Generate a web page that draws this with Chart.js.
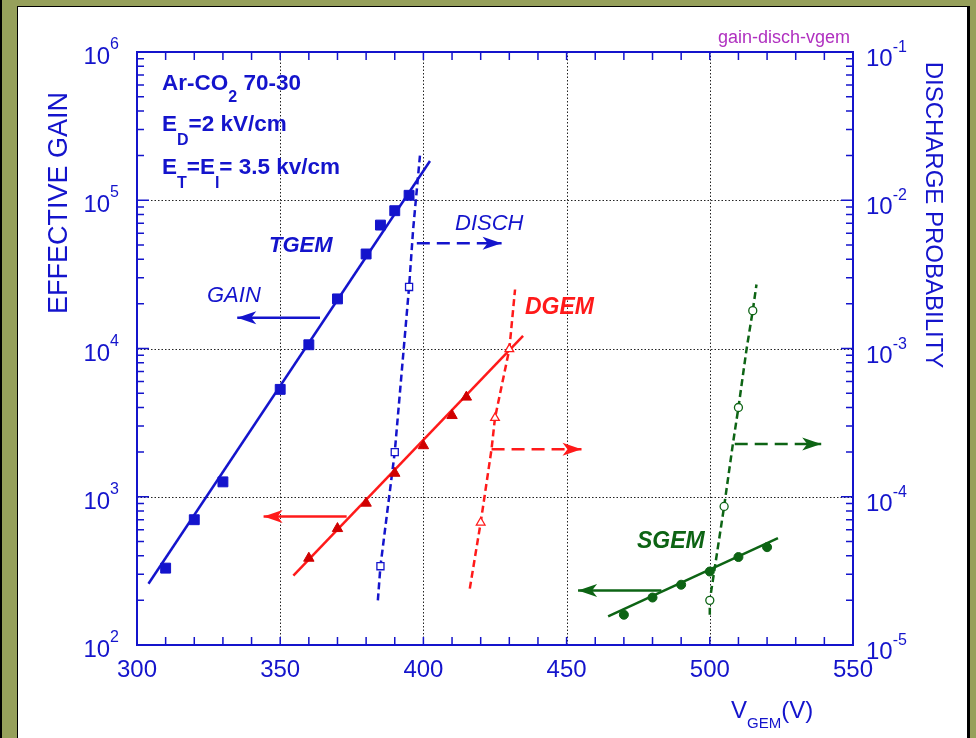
<!DOCTYPE html>
<html>
<head>
<meta charset="utf-8">
<script src="https://cdn.jsdelivr.net/npm/chart.js@4"></script>
<style>
  html, body { margin: 0; padding: 0; background: #96a05b; }
  canvas { display: block; }
</style>
</head>
<body>
<canvas id="gainChart" width="976" height="738"></canvas>
<script>
// values
const tgemVolts = [310, 320, 330, 350, 360, 370, 380, 385, 390, 395];
const tgemGain = [330, 700, 1260, 5300, 10600, 21600, 43400, 68000, 85000, 108000];
const tgemFitVolts = [304, 402.3];
const tgemFitGain = [259, 184000];
const tgemDischVolts = [385, 390, 395];
const tgemDisch = [3.4e-5, 2.0e-4, 2.6e-3];
const tgemDischFitVolts = [384.1, 385, 390, 395, 396.4, 398.8];
const tgemDischFit = [2.0e-5, 3.4e-5, 2.0e-4, 2.6e-3, 6.3e-3, 2.0e-2];

const dgemVolts = [360, 370, 380, 390, 400, 410, 415];
const dgemGain = [385, 610, 905, 1440, 2210, 3530, 4700];
const dgemFitVolts = [354.6, 434.8];
const dgemFitGain = [294, 12160];
const dgemDischVolts = [420, 425, 430];
const dgemDisch = [6.7e-5, 3.4e-4, 9.9e-4];
const dgemDischFitVolts = [416.2, 420, 423.8, 425, 430, 432];
const dgemDischFit = [2.4e-5, 6.7e-5, 2.1e-4, 3.4e-4, 9.9e-4, 2.5e-3];

const sgemVolts = [470, 480, 490, 500, 510, 520];
const sgemGain = [160, 209, 255, 313, 392, 457];
const sgemFitVolts = [464.5, 523.8];
const sgemFitGain = [156, 526];
const sgemDischVolts = [500, 505, 510, 515];
const sgemDisch = [2.0e-5, 8.6e-5, 4.0e-4, 1.8e-3];
const sgemDischFitVolts = [500, 500, 505, 508.1, 510, 512.8, 515, 516.3];
const sgemDischFit = [1.6e-5, 2.0e-5, 8.6e-5, 2.3e-4, 4.0e-4, 9.8e-4, 1.8e-3, 2.7e-3];

// arrows: tgem gain, tgem disch, dgem gain, dgem disch, sgem gain, sgem disch
const arrowFromVolts = [363.9, 397.7, 373.2, 423.8, 483.1, 508.7];
const arrowToVolts = [335.0, 427.3, 344.2, 455.2, 454.0, 538.9];
const arrowGainLevel = [16100, 51300, 736, 2090, 233, 2270];

const xTicks = [300, 350, 400, 450, 500, 550];
const gainExps = [2, 3, 4, 5, 6];
const dischExps = [-5, -4, -3, -2, -1];

const BLUE = '#1414cc';
const RED = '#ff1a1a';
const DRED = '#d00000';
const GREEN = '#0d6414';
const FONT = '"Liberation Sans", Arial, sans-serif';

function pts(xs, ys) {
  return xs.map((x, i) => ({ x: x, y: ys[i] }));
}

function fitLine(xs, ys, color, axis, dashed) {
  return {
    data: pts(xs, ys), yAxisID: axis, showLine: true,
    borderColor: color, borderWidth: 2.5, pointRadius: 0,
    borderDash: dashed ? [7, 4] : []
  };
}

function markers(xs, ys, color, axis, style, r, open, fill) {
  return {
    data: pts(xs, ys), yAxisID: axis, showLine: false,
    pointStyle: style, pointRadius: r,
    pointBackgroundColor: open ? '#fff' : (fill || color),
    pointBorderColor: fill || color, pointBorderWidth: open ? 1.3 : 1
  };
}

const arrowColors = [BLUE, BLUE, RED, RED, GREEN, GREEN];
const arrowSets = arrowFromVolts.map((v, i) => ({
  data: [{ x: v, y: arrowGainLevel[i] }, { x: arrowToVolts[i], y: arrowGainLevel[i] }],
  yAxisID: 'y', showLine: true, pointRadius: 0,
  borderColor: arrowColors[i], borderWidth: 2.5,
  borderDash: i % 2 ? [13, 7] : [],
  arrow: true
}));

const datasets = [
  markers(tgemVolts, tgemGain, BLUE, 'y', 'rect', 7, false),
  markers(tgemDischVolts, tgemDisch, BLUE, 'y2', 'rect', 5, true),
  markers(dgemVolts, dgemGain, DRED, 'y', 'triangle', 6, false),
  markers(dgemDischVolts, dgemDisch, RED, 'y2', 'triangle', 5, true),
  markers(sgemVolts, sgemGain, GREEN, 'y', 'circle', 4.5, false),
  markers(sgemDischVolts, sgemDisch, GREEN, 'y2', 'circle', 4, true),
  fitLine(tgemFitVolts, tgemFitGain, BLUE, 'y', false),
  fitLine(tgemDischFitVolts, tgemDischFit, BLUE, 'y2', true),
  fitLine(dgemFitVolts, dgemFitGain, RED, 'y', false),
  fitLine(dgemDischFitVolts, dgemDischFit, RED, 'y2', true),
  fitLine(sgemFitVolts, sgemFitGain, GREEN, 'y', false),
  fitLine(sgemDischFitVolts, sgemDischFit, GREEN, 'y2', true)
].concat(arrowSets);

function rich(ctx, parts, x, y, align, color) {
  // parts: [text, size, dy, style]
  let w = 0;
  parts.forEach(p => {
    ctx.font = (p[3] || '') + ' ' + p[1] + 'px ' + FONT;
    p.w = ctx.measureText(p[0]).width;
    w += p.w;
  });
  let cx = align === 'right' ? x - w : align === 'center' ? x - w / 2 : x;
  ctx.fillStyle = color;
  ctx.textAlign = 'left';
  ctx.textBaseline = 'alphabetic';
  parts.forEach(p => {
    ctx.font = (p[3] || '') + ' ' + p[1] + 'px ' + FONT;
    ctx.fillText(p[0], cx, y + p[2]);
    cx += p.w;
  });
}

const decor = {
  id: 'decor',
  beforeDraw(chart) {
    const c = chart.ctx;
    c.save();
    c.fillStyle = '#96a05b';
    c.fillRect(0, 0, 976, 738);
    c.fillStyle = '#000';
    c.fillRect(0, 0, 2, 738);
    c.fillRect(17, 6, 953, 732);
    c.fillStyle = '#fff';
    c.fillRect(18, 7, 949, 731);
    c.restore();
  },
  beforeDatasetsDraw(chart) {
    const c = chart.ctx, a = chart.chartArea;
    const xs = chart.scales.x, ys = chart.scales.y;
    c.save();
    c.strokeStyle = '#222';
    c.lineWidth = 1;
    c.setLineDash([1.5, 2]);
    [350, 400, 450, 500].forEach(v => {
      const px = Math.round(xs.getPixelForValue(v)) + 0.5;
      c.beginPath(); c.moveTo(px, a.top); c.lineTo(px, a.bottom); c.stroke();
    });
    [1e3, 1e4, 1e5].forEach(v => {
      const py = Math.round(ys.getPixelForValue(v)) + 0.5;
      c.beginPath(); c.moveTo(a.left, py); c.lineTo(a.right, py); c.stroke();
    });
    c.restore();
  },
  afterDatasetsDraw(chart) {
    const c = chart.ctx, a = chart.chartArea;
    const xs = chart.scales.x, ys = chart.scales.y, y2 = chart.scales.y2;
    c.save();
    // arrow heads
    chart.data.datasets.forEach((ds, i) => {
      if (!ds.arrow) return;
      const m = chart.getDatasetMeta(i).data;
      const tip = m[1], dir = Math.sign(m[1].x - m[0].x);
      c.fillStyle = ds.borderColor;
      c.beginPath();
      c.moveTo(tip.x, tip.y);
      c.lineTo(tip.x - dir * 19, tip.y - 6.5);
      c.lineTo(tip.x - dir * 14, tip.y);
      c.lineTo(tip.x - dir * 19, tip.y + 6.5);
      c.closePath();
      c.fill();
    });
    // frame
    c.strokeStyle = BLUE;
    c.lineWidth = 2;
    c.strokeRect(a.left, a.top, a.right - a.left, a.bottom - a.top);
    c.lineWidth = 1.5;
    c.beginPath();
    for (let v = 310; v < 550; v += 10) {
      const px = xs.getPixelForValue(v);
      c.moveTo(px, a.bottom); c.lineTo(px, a.bottom - 8);
      c.moveTo(px, a.top); c.lineTo(px, a.top + 8);
    }
    for (let k = 2; k < 6; k++) {
      for (let m = 1; m <= 9; m++) {
        const pl = ys.getPixelForValue(m * Math.pow(10, k));
        const len = m === 1 ? 12 : 7;
        c.moveTo(a.left, pl); c.lineTo(a.left + len, pl);
        const pr = y2.getPixelForValue(m * Math.pow(10, k - 7));
        c.moveTo(a.right, pr); c.lineTo(a.right - len, pr);
      }
    }
    c.stroke();
    c.restore();
  },
  afterDraw(chart) {
    const c = chart.ctx, a = chart.chartArea;
    const xs = chart.scales.x, ys = chart.scales.y, y2 = chart.scales.y2;
    c.save();
    // tick labels
    gainExps.forEach(k => {
      const py = ys.getPixelForValue(Math.pow(10, k));
      rich(c, [['10', 24, 12], [String(k), 16, -3]], 119, py, 'right', BLUE);
    });
    dischExps.forEach(k => {
      const py = y2.getPixelForValue(Math.pow(10, k));
      rich(c, [['10', 24, 14], [String(k), 16, 0]], 866, py, 'left', BLUE);
    });
    xTicks.forEach(v => {
      rich(c, [[String(v), 24, 0]], xs.getPixelForValue(v), a.bottom + 32, 'center', BLUE);
    });
    // axis titles
    c.save();
    c.translate(57, 203);
    c.rotate(-Math.PI / 2);
    rich(c, [['EFFECTIVE GAIN', 27, 10]], 0, 0, 'center', BLUE);
    c.restore();
    c.save();
    c.translate(935, 215);
    c.rotate(Math.PI / 2);
    rich(c, [['DISCHARGE PROBABILITY', 24, 9]], 0, 0, 'center', BLUE);
    c.restore();
    rich(c, [['V', 24, 0], ['GEM', 15, 10], ['(V)', 24, 0]], 731, 718, 'left', BLUE);
    // annotations
    rich(c, [['gain-disch-vgem', 18, 0]], 850, 43, 'right', '#b030c0');
    rich(c, [['Ar-CO', 22.5, 0, 'bold'], ['2', 16, 12, 'bold'], [' 70-30', 22.5, 0, 'bold']], 162, 90, 'left', BLUE);
    rich(c, [['E', 22.5, 0, 'bold'], ['D', 16, 14, 'bold'], ['=2 kV/cm', 22.5, 0, 'bold']], 162, 131, 'left', BLUE);
    rich(c, [['E', 22.5, 0, 'bold'], ['T', 16, 14, 'bold'], ['=E', 22.5, 0, 'bold'], ['I', 16, 14, 'bold'], ['= 3.5 kv/cm', 22.5, 0, 'bold']], 162, 174, 'left', BLUE);
    rich(c, [['TGEM', 22, 0, 'italic bold']], 269, 252, 'left', BLUE);
    rich(c, [['GAIN', 22, 0, 'italic']], 207, 302, 'left', BLUE);
    rich(c, [['DISCH', 22, 0, 'italic']], 455, 230, 'left', BLUE);
    rich(c, [['DGEM', 23, 0, 'italic bold']], 525, 314, 'left', RED);
    rich(c, [['SGEM', 23, 0, 'italic bold']], 637, 548, 'left', GREEN);
    c.restore();
  }
};

new Chart(document.getElementById('gainChart').getContext('2d'), {
  type: 'scatter',
  data: { datasets: datasets },
  options: {
    responsive: false,
    animation: false,
    devicePixelRatio: 1,
    layout: { padding: { left: 137, right: 123, top: 52, bottom: 93 } },
    plugins: { legend: { display: false }, tooltip: { enabled: false } },
    scales: {
      x: { type: 'linear', min: 300, max: 550, display: false },
      y: { type: 'logarithmic', min: 100, max: 1e6, display: false },
      y2: { type: 'logarithmic', min: 1e-5, max: 1e-1, display: false, position: 'right' }
    }
  },
  plugins: [decor]
});
</script>
</body>
</html>
